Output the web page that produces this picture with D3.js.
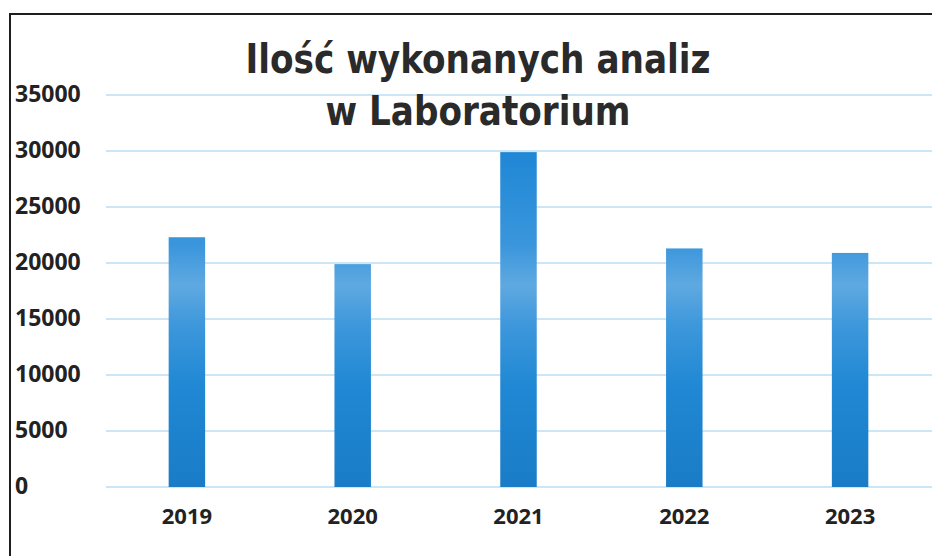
<!DOCTYPE html>
<html>
<head>
<meta charset="utf-8">
<script src="https://cdn.jsdelivr.net/npm/d3@7"></script>
<style>
  html, body { margin: 0; padding: 0; background: #fff; }
  svg { display: block; }
</style>
</head>
<body>
<svg id="chart" width="932" height="556"></svg>
<script>
const years = ['2019', '2020', '2021', '2022', '2023']
const analyses = [22300, 19900, 29900, 21300, 20900]
const yTicks = [0, 5000, 10000, 15000, 20000, 25000, 30000, 35000]
const titleLines = ['Ilość wykonanych analiz', 'w Laboratorium']

const width = 932, height = 556
const svg = d3.select('#chart')

const x = d3.scaleBand().domain(years).range([104, 933])
  .paddingInner(0.78).paddingOuter(0.39)
const y = d3.scaleLinear().domain([0, 35000]).range([487, 95])

// bar fill: blue with a lighter patch in the upper middle, like the scanned print
const grad = svg.append('defs').append('linearGradient')
  .attr('id', 'barFill').attr('gradientUnits', 'userSpaceOnUse')
  .attr('x1', 0).attr('x2', 0).attr('y1', y(30000)).attr('y2', y(0))
grad.selectAll('stop')
  .data([['0%', '#1f87d5'], ['28%', '#3a96dc'], ['40%', '#5fa9e1'], ['52%', '#3d97db'], ['70%', '#2088d4'], ['100%', '#1a7cc6']])
  .join('stop').attr('offset', d => d[0]).attr('stop-color', d => d[1])

// frame (left and top edges only visible)
svg.append('path')
  .attr('d', `M10,${height} L10,14 L${width},14`)
  .attr('fill', 'none').attr('stroke', '#1e1e1e').attr('stroke-width', 2)

// gridlines + y labels
const yAxis = svg.append('g')
yAxis.selectAll('line').data(yTicks).join('line')
  .attr('x1', 106).attr('x2', width)
  .attr('y1', d => y(d)).attr('y2', d => y(d))
  .attr('stroke', '#cde6f6').attr('stroke-width', 2)
yAxis.selectAll('text').data(yTicks).join('text')
  .attr('x', 15).attr('y', d => y(d) - 1)
  .attr('dy', '0.35em')
  .attr('font-family', '"Open Sans", "Liberation Sans", sans-serif')
  .attr('font-weight', 700).attr('font-size', 23)
  .attr('fill', '#222')
  .text(d => d)

// bars
svg.append('g').selectAll('rect').data(analyses).join('rect')
  .attr('x', (d, i) => x(years[i]))
  .attr('width', x.bandwidth())
  .attr('y', d => y(d))
  .attr('height', d => y(0) - y(d))
  .attr('fill', 'url(#barFill)')

// x labels
svg.append('g').selectAll('text').data(years).join('text')
  .attr('x', d => x(d) + x.bandwidth() / 2)
  .attr('y', 516).attr('dy', '0.35em')
  .attr('text-anchor', 'middle')
  .attr('font-family', '"Open Sans", "Liberation Sans", sans-serif')
  .attr('font-weight', 700).attr('font-size', 22)
  .attr('fill', '#222')
  .text(d => d)

// title
svg.append('g').selectAll('text').data(titleLines).join('text')
  .attr('x', 478).attr('y', (d, i) => 73 + i * 52)
  .attr('text-anchor', 'middle')
  .attr('font-family', '"Liberation Sans Narrow", "DejaVu Sans Condensed", "Open Sans", sans-serif')
  .attr('font-weight', 700).attr('font-size', 41)
  .attr('fill', '#2a2a2a')
  .attr('textLength', (d, i) => i ? 305 : 465)
  .attr('lengthAdjust', 'spacingAndGlyphs')
  .text(d => d)
</script>
</body>
</html>
